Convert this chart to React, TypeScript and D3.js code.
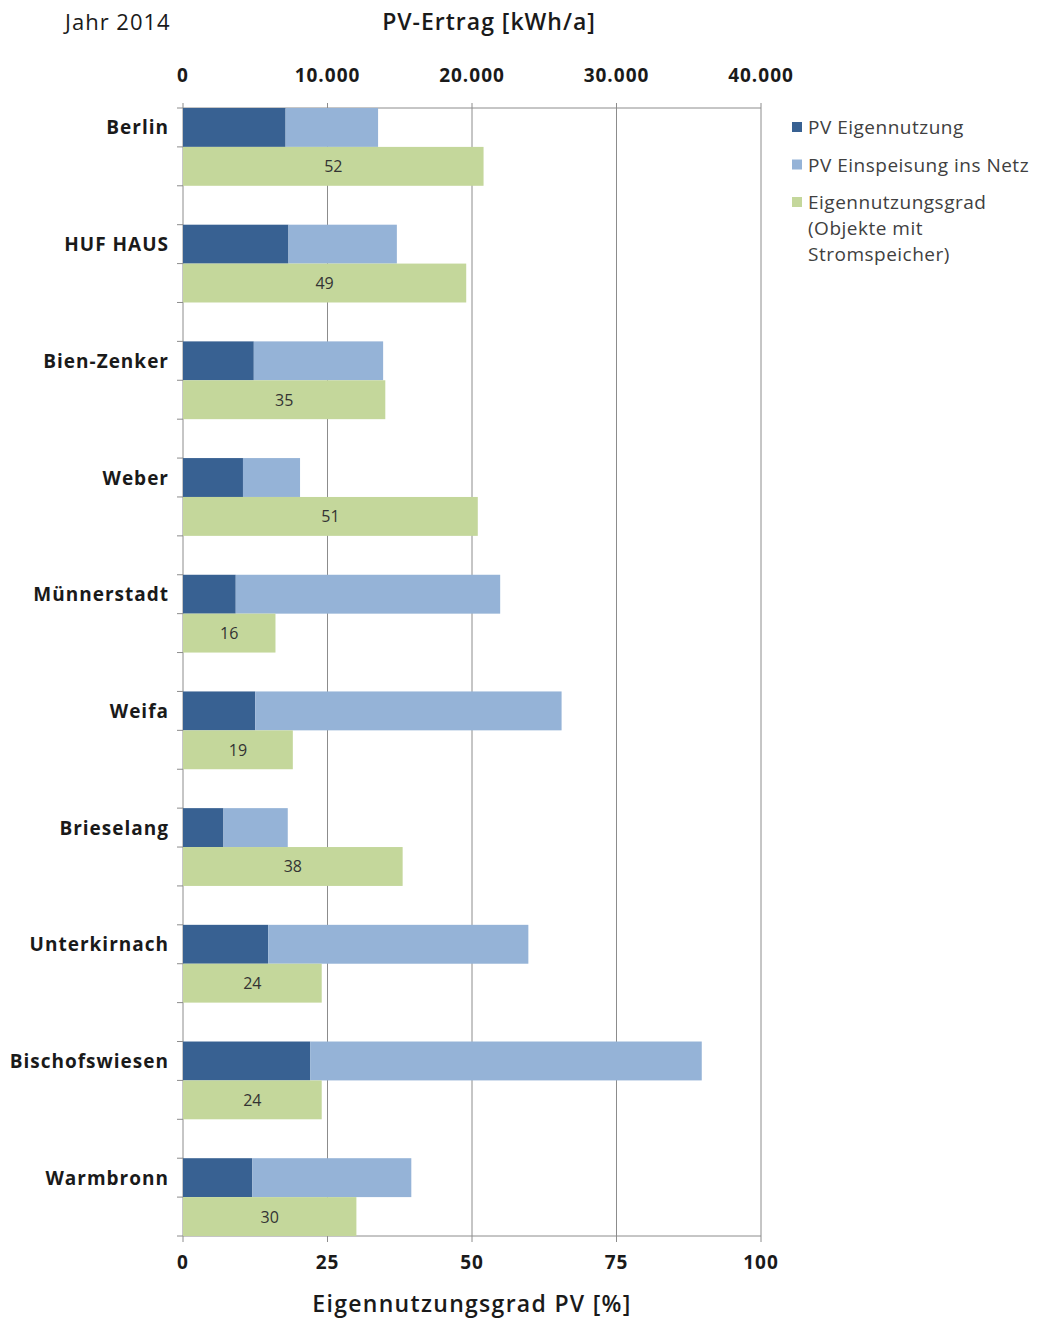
import React from "react";
import * as d3 from "d3";

const categories = ["Berlin", "HUF HAUS", "Bien-Zenker", "Weber", "Münnerstadt", "Weifa", "Brieselang", "Unterkirnach", "Bischofswiesen", "Warmbronn"];
const eigennutzung = [7100, 7300, 4900, 4150, 3650, 5000, 2800, 5900, 8800, 4800];
const einspeisung = [6400, 7500, 8950, 3950, 18300, 21200, 4450, 18000, 27100, 11000];
const eigennutzungsgrad = [52, 49, 35, 51, 16, 19, 38, 24, 24, 30];
const topTicks = [0, 10000, 20000, 30000, 40000];
const bottomTicks = [0, 25, 50, 75, 100];
const legendItems = ["PV Eigennutzung", "PV Einspeisung ins Netz", "Eigennutzungsgrad"];

const C_DARK = "#386192";
const C_LIGHT = "#95b3d7";
const C_GREEN = "#c4d79b";
const C_GRID = "#8c8c8c";
const FONT = "'Open Sans', 'Noto Sans', sans-serif";

export default function App() {
  const W = 1043, H = 1320;
  const left = 183, right = 761, top = 108, bottom = 1236;
  const nSlots = categories.length * 3 - 1;
  const y = d3.scaleBand<number>().domain(d3.range(nSlots)).range([top, bottom]).padding(0);
  const xE = d3.scaleLinear().domain([0, 40000]).range([left, right]);
  const xP = d3.scaleLinear().domain([0, 100]).range([left, right]);
  const fmt = (v: number) => (v === 0 ? "0" : d3.format(",")(v).replace(/,/g, "."));
  const bw = y.bandwidth();

  return (
    <svg width={W} height={H} style={{ display: "block", position: "absolute", left: 0, top: 0 }} fontFamily={FONT}>
      <rect width={W} height={H} fill="#fff" />
      {/* gridlines */}
      {topTicks.map((t) => (
        <line key={"g" + t} x1={xE(t)} x2={xE(t)} y1={top - 5} y2={bottom + 6} stroke={C_GRID} strokeWidth={1} />
      ))}
      <line x1={left} x2={right} y1={top} y2={top} stroke={C_GRID} />
      <line x1={left} x2={right} y1={bottom} y2={bottom} stroke={C_GRID} />
      {d3.range(nSlots + 1).map((i) => {
        const yy = i < nSlots ? (y(i) as number) : bottom;
        return <line key={"lt" + i} x1={left - 6} x2={left} y1={yy} y2={yy} stroke={C_GRID} />;
      })}
      {/* bars */}
      {categories.map((c, i) => {
        const yd = y(3 * i) as number;
        const yg = y(3 * i + 1) as number;
        return (
          <g key={c}>
            <rect x={xE(0)} y={yd} width={xE(eigennutzung[i]) - xE(0)} height={bw} fill={C_DARK} />
            <rect x={xE(eigennutzung[i])} y={yd} width={xE(eigennutzung[i] + einspeisung[i]) - xE(eigennutzung[i])} height={bw} fill={C_LIGHT} />
            <rect x={xP(0)} y={yg} width={xP(eigennutzungsgrad[i]) - xP(0)} height={bw} fill={C_GREEN} />
            <text x={(xP(0) + xP(eigennutzungsgrad[i])) / 2} y={yg + bw / 2 + 6} textAnchor="middle" fontSize={16} fill="#333">
              {eigennutzungsgrad[i]}
            </text>
            <text x={169} y={yd + bw / 2 + 7} textAnchor="end" fontSize={19} fontWeight="bold" letterSpacing={1} fill="#1a1a1a">
              {c}
            </text>
          </g>
        );
      })}
      {/* top axis labels */}
      {topTicks.map((t) => (
        <text key={"tt" + t} x={xE(t)} y={82} textAnchor="middle" fontSize={19} fontWeight="bold" letterSpacing={1} fill="#1a1a1a">
          {fmt(t)}
        </text>
      ))}
      {bottomTicks.map((t) => (
        <text key={"bt" + t} x={xP(t)} y={1269} textAnchor="middle" fontSize={19} fontWeight="bold" letterSpacing={1} fill="#1a1a1a">
          {t}
        </text>
      ))}
      <text x={489} y={30} textAnchor="middle" fontSize={23} fontWeight={600} letterSpacing={1} fill="#1a1a1a">PV-Ertrag [kWh/a]</text>
      <text x={65} y={30} fontSize={22} letterSpacing={1} fill="#1a1a1a">Jahr 2014</text>
      <text x={472} y={1312} textAnchor="middle" fontSize={23} fontWeight={600} letterSpacing={1.3} fill="#1a1a1a">Eigennutzungsgrad PV [%]</text>
      {/* legend */}
      {[C_DARK, C_LIGHT, C_GREEN].map((col, i) => (
        <g key={"lg" + i}>
          <rect x={792} y={122 + i * 37.5} width={10} height={10} fill={col} />
          <text x={808} y={134 + i * 37.5} fontSize={19} letterSpacing={0.5} fill="#404040">{legendItems[i]}</text>
        </g>
      ))}
      <text x={808} y={235} fontSize={19} letterSpacing={0.5} fill="#404040">(Objekte mit</text>
      <text x={808} y={261} fontSize={19} letterSpacing={0.5} fill="#404040">Stromspeicher)</text>
    </svg>
  );
}
